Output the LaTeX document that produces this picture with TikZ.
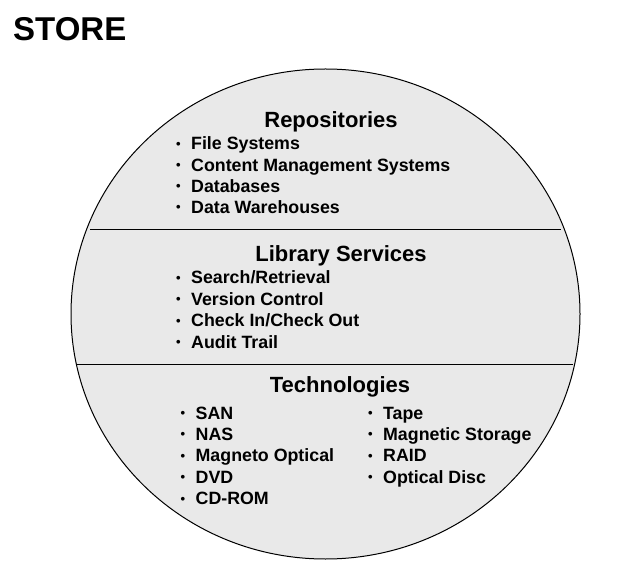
\documentclass[tikz,border=0pt]{standalone}
\usepackage{fontspec}
\setmainfont{Liberation Sans}
\usepackage{tikz}

\definecolor{discgray}{RGB}{233,233,233}
\tikzset{
  title/.style={anchor=base west,inner sep=0pt,font=\fontsize{33}{36}\selectfont\bfseries},
  head/.style={anchor=base,inner sep=0pt,font=\fontsize{22}{24}\selectfont\bfseries},
  item/.style={anchor=base west,inner sep=0pt,font=\fontsize{17.8}{20}\selectfont\bfseries}
}
\newcommand{\blt}{\raisebox{1.6pt}{\fontsize{13}{13}\selectfont\textbullet}\hspace{10.4pt}}

\begin{document}
\begin{tikzpicture}[x=1pt,y=-1pt]
  \useasboundingbox (0,0) rectangle (640,585);
  \node[title] (store) at (13,41) {STORE};
  \filldraw[fill=discgray,draw=black,line width=1pt] (325.5,314) ellipse [x radius=254.5,y radius=245];
  \draw[line width=1pt] (90,229.7) -- (561,229.7);
  \draw[line width=1pt] (76,364) -- (573,364);
  % repositories
  \node[head] (rephead) at (331,127.7) {Repositories};
  \node[item] (rep1) at (176,150) {\blt File Systems};
  \node[item] (rep2) at (176,171.2) {\blt Content Management Systems};
  \node[item] (rep3) at (176,192.4) {\blt Databases};
  \node[item] (rep4) at (176,213.6) {\blt Data Warehouses};
  % library services
  \node[head] (libhead) at (341,262) {Library Services};
  \node[item] (lib1) at (176,284) {\blt Search/Retrieval};
  \node[item] (lib2) at (176,305.4) {\blt Version Control};
  \node[item] (lib3) at (176,326.8) {\blt Check In/Check Out};
  \node[item] (lib4) at (176,348.2) {\blt Audit Trail};
  % technologies
  \node[head] (techhead) at (340,392.3) {Technologies};
  \node[item] (tecl1) at (180.5,419) {\blt SAN};
  \node[item] (tecl2) at (180.5,440.4) {\blt NAS};
  \node[item] (tecl3) at (180.5,461.8) {\blt Magneto Optical};
  \node[item] (tecl4) at (180.5,483.2) {\blt DVD};
  \node[item] (tecl5) at (180.5,504.6) {\blt CD-ROM};
  \node[item] (tecr1) at (368,419) {\blt Tape};
  \node[item] (tecr2) at (368,440.4) {\blt Magnetic Storage};
  \node[item] (tecr3) at (368,461.8) {\blt RAID};
  \node[item] (tecr4) at (368,483.2) {\blt Optical Disc};
\end{tikzpicture}
\end{document}
